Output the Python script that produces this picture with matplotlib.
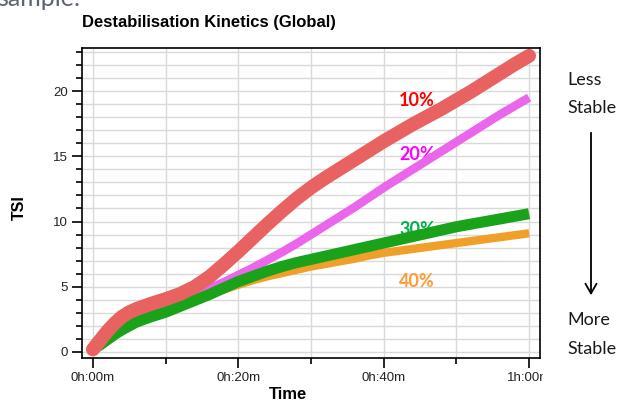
import matplotlib.pyplot as plt
from matplotlib.patches import Rectangle, FancyArrowPatch

# time in minutes, TSI values for each concentration
t = [0, 1, 2, 3, 4, 5, 6, 7, 8, 10, 12, 14, 16, 18, 20, 22, 24, 26, 28, 30, 32, 34, 36, 38,
     40, 42, 44, 46, 48, 50, 52, 54, 56, 58, 60]
tsi_10 = [0.2, 0.9, 1.6, 2.2, 2.7, 3.05, 3.3, 3.5, 3.7, 4.05, 4.45, 5.0, 5.75, 6.7, 7.7,
          8.75, 9.8, 10.8, 11.75, 12.6, 13.35, 14.05, 14.75, 15.45, 16.15, 16.8, 17.45, 18.05,
          18.65, 19.3, 19.95, 20.65, 21.35, 22.05, 22.7]
tsi_20 = [0.2, 0.7, 1.2, 1.6, 2.0, 2.3, 2.6, 2.85, 3.1, 3.5, 3.9, 4.35, 4.85, 5.35, 5.9,
          6.45, 7.05, 7.65, 8.3, 9.0, 9.7, 10.4, 11.1, 11.85, 12.6, 13.3, 14.0, 14.7, 15.4,
          16.1, 16.8, 17.5, 18.2, 18.85, 19.5]
tsi_30 = [0.2, 0.55, 0.95, 1.35, 1.7, 2.0, 2.3, 2.5, 2.7, 3.05, 3.5, 3.95, 4.4, 4.9, 5.4,
          5.8, 6.2, 6.55, 6.85, 7.1, 7.35, 7.6, 7.85, 8.1, 8.35, 8.6, 8.85, 9.1, 9.35, 9.6,
          9.8, 10.0, 10.2, 10.4, 10.6]
tsi_40 = [0.2, 0.65, 1.1, 1.5, 1.9, 2.2, 2.5, 2.7, 2.9, 3.25, 3.65, 4.05, 4.45, 4.8, 5.15,
          5.5, 5.8, 6.05, 6.3, 6.55, 6.75, 6.95, 7.15, 7.4, 7.6, 7.75, 7.9, 8.05, 8.2, 8.35,
          8.5, 8.65, 8.8, 8.95, 9.1]

labels = ['10%', '20%', '30%', '40%']
label_pos = [19.3, 15.1, 9.4, 5.4]
xtick_labels = ['0h:00m', '0h:20m', '0h:40m', '1h:00m']

fig = plt.figure(figsize=(6.22, 4.01), dpi=100)
ax = fig.add_axes([82/622, 1-358/401, 458/622, 310/401])

# lines, bottom to top
ax.plot(t, tsi_40, color='#f0a028', lw=6, solid_capstyle='butt', zorder=3)
ax.plot(t, tsi_20, color='#ea66ea', lw=6.2, solid_capstyle='butt', zorder=4)
ax.plot(t, tsi_30, color='#1aa31a', lw=8, solid_capstyle='butt', zorder=5)
ax.plot(t, tsi_10, color='#e96262', lw=10, solid_capstyle='round', zorder=6)

label_colors = ['#ff0000', '#ff00ff', '#00b050', '#ff9933']
for lab, y, c in zip(labels, label_pos, label_colors):
    ax.text(44.6, y, lab, color=c, fontsize=13, fontweight='bold', family='Lato',
            ha='center', va='center', zorder=2)

ax.set_xlim(-1.5, 61.5)
ax.set_ylim(-0.46, 23.3)
ax.set_xticks([0, 20, 40, 60])
ax.set_xticklabels(xtick_labels)
ax.set_xticks([10, 30, 50], minor=True)
ax.set_yticks([0, 5, 10, 15, 20])
ax.set_yticks([i for i in range(24) if i % 5], minor=True)

ax.grid(True, which='both', color='#d9d9d9', lw=1, zorder=0)
ax.set_axisbelow(True)
for s in ax.spines.values():
    s.set_linewidth(1.2)
ax.tick_params(which='major', length=7, width=1.2, labelsize=9.5, pad=3)
ax.tick_params(which='minor', length=4.5, width=1.2)
for lab in ax.get_xticklabels() + ax.get_yticklabels():
    lab.set_family('Liberation Sans')
    lab.set_color('#222222')

fig.text(82/622, 1-22/401, 'Destabilisation Kinetics (Global)', fontsize=12,
         fontweight='bold', family='Liberation Sans', ha='left', va='center')
fig.text(19/622, 1-208/401, 'TSI', fontsize=11.5, fontweight='bold',
         family='Liberation Sans', rotation=90, ha='center', va='center')
fig.text(288/622, 1-387/401, 'Time', fontsize=12, fontweight='bold',
         family='Liberation Sans', ha='center', va='top')

# clipped heading above the chart
fig.text(-3/622, 1-6/401, 'sample:', fontsize=18, family='Lato',
         color='#5b6470', ha='left', va='baseline')

# hide the overflowing end of the last tick label
fig.patches.append(Rectangle((543/622, 0.03), 20/622, 0.07, transform=fig.transFigure,
                             color='white', zorder=5))

# stability annotation on the right
for txt, y in [('Less', 80), ('Stable', 108), ('More', 320), ('Stable', 349)]:
    fig.text(567/622, 1-y/401, txt, fontsize=13, family='Lato', color='#1a1a1a',
             ha='left', va='center')
fig.patches.append(FancyArrowPatch(
    (591/622, 1-130/401), (591/622, 1-298/401), transform=fig.transFigure,
    arrowstyle='->,head_length=7,head_width=4', color='black', lw=1.3))

fig.savefig('out.png', dpi=100)
